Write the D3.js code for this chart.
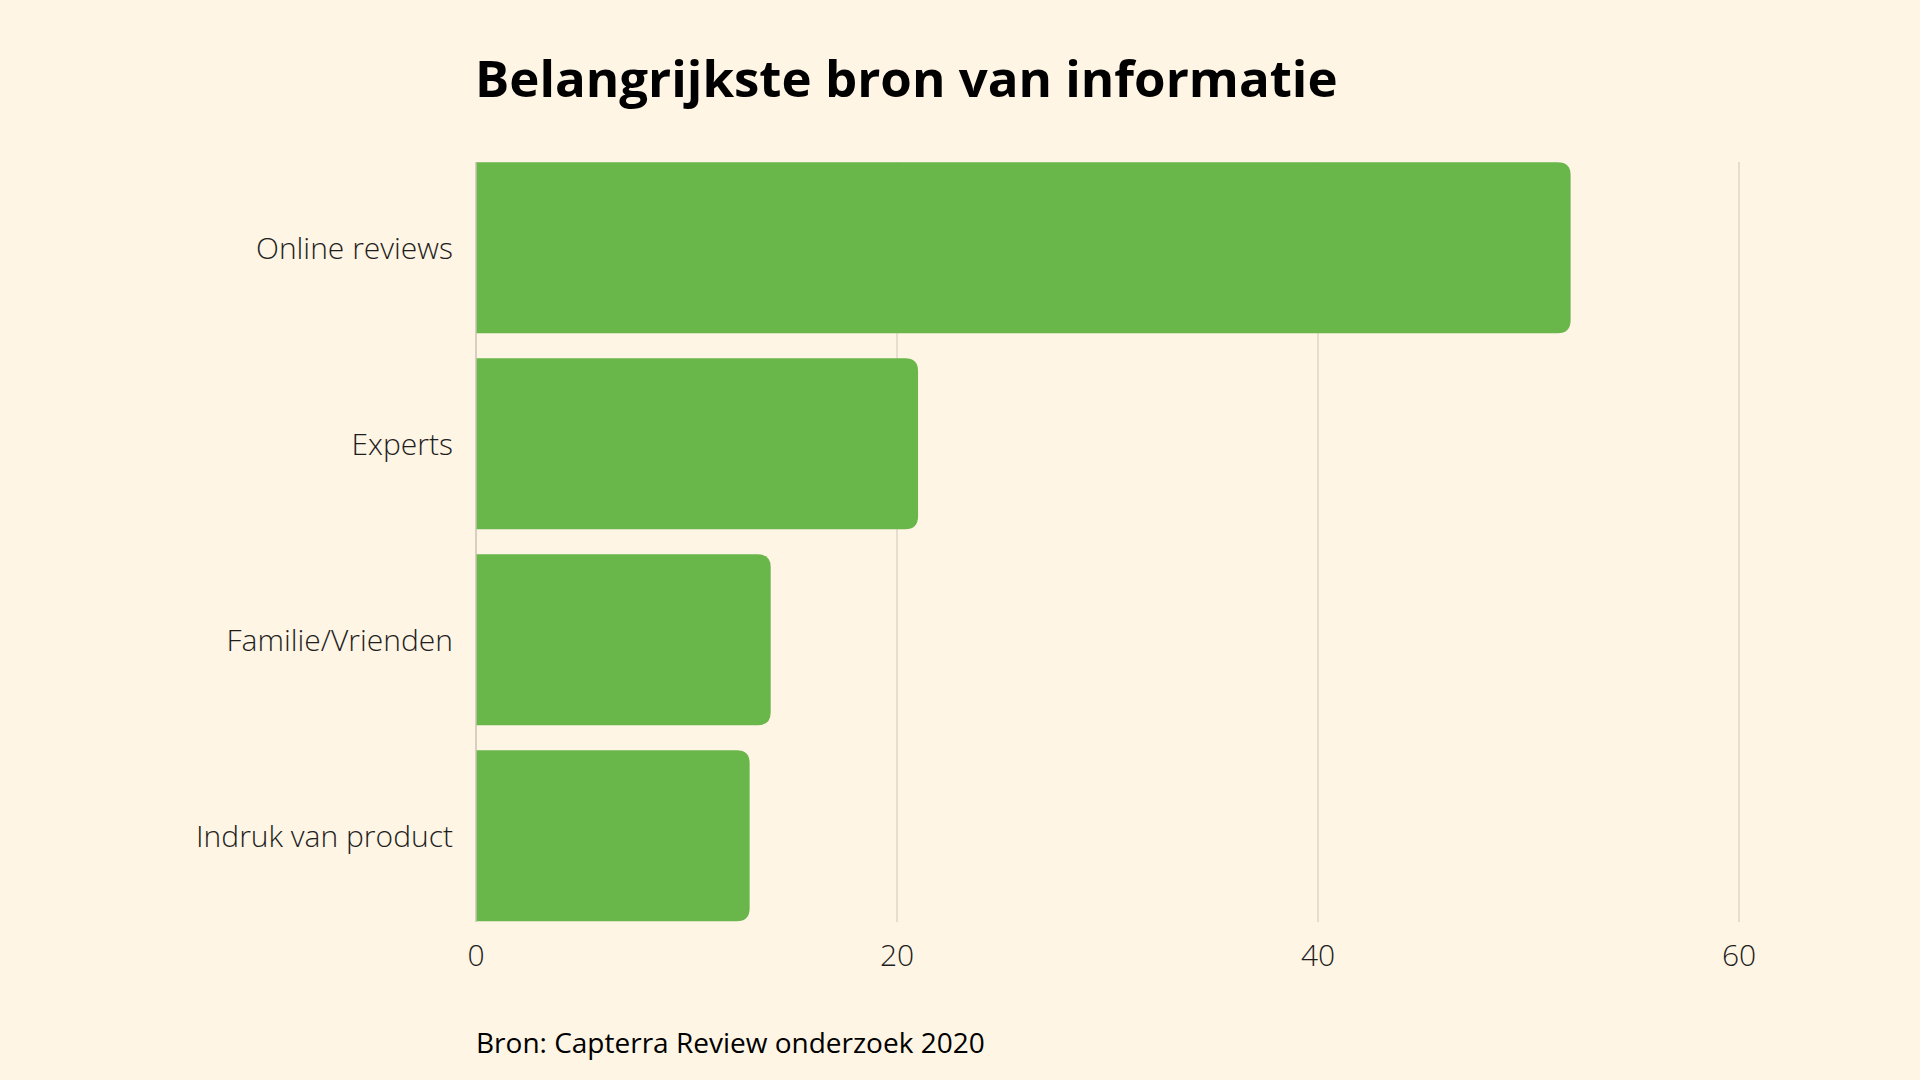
<!DOCTYPE html>
<html>
<head>
<meta charset="utf-8">
<script src="https://cdn.jsdelivr.net/npm/d3@7/dist/d3.min.js"></script>
<style>
html,body{margin:0;padding:0;background:#FEF5E4;}
svg{display:block;}
text{font-family:"Open Sans",sans-serif;}
</style>
</head>
<body>
<script>
const categories = ["Online reviews","Experts","Familie/Vrienden","Indruk van product"];
const values = [52, 21, 14, 13];
const tickValues = [0, 20, 40, 60];
const titleText = "Belangrijkste bron van informatie";
const sourceText = "Bron: Capterra Review onderzoek 2020";

const W = 1920, H = 1080;
const svg = d3.select("body").append("svg").attr("width", W).attr("height", H);
svg.append("rect").attr("width", W).attr("height", H).attr("fill", "#FEF5E4");

const x = d3.scaleLinear().domain([0, 60]).range([476, 1739]);
const y = d3.scaleBand().domain(categories).range([162.3, 921.3]).paddingInner(0.1276).paddingOuter(0);

// gridlines
svg.append("g").selectAll("line").data(tickValues).join("line")
  .attr("x1", d => x(d)).attr("x2", d => x(d))
  .attr("y1", 162).attr("y2", 922)
  .attr("stroke", "#D9D2C4").attr("stroke-width", 1.3);

// bars with rounded right corners
const r = 13;
function barPath(v, cat) {
  const x0 = x(0), x1 = x(v), y0 = y(cat), y1 = y(cat) + y.bandwidth();
  const rr = Math.min(r, (x1 - x0) / 2);
  return `M${x0},${y0} H${x1 - rr} Q${x1},${y0} ${x1},${y0 + rr} V${y1 - rr} Q${x1},${y1} ${x1 - rr},${y1} H${x0} Z`;
}
svg.append("g").selectAll("path").data(categories).join("path")
  .attr("d", (c, i) => barPath(values[i], c))
  .attr("fill", "#69B64A");

// axis line at 0 drawn over bars
svg.append("line").attr("x1", x(0)).attr("x2", x(0)).attr("y1", 162).attr("y2", 922)
  .attr("stroke", "#CFC8BA").attr("stroke-width", 1.3);

// category labels
svg.append("g").selectAll("text").data(categories).join("text")
  .attr("x", 453).attr("y", d => y(d) + y.bandwidth() / 2)
  .attr("dy", "0.37em")
  .attr("text-anchor", "end")
  .attr("font-size", 30).attr("font-weight", 300).attr("fill", "#1e1e1e")
  .text(d => d);

// tick labels
svg.append("g").selectAll("text").data(tickValues).join("text")
  .attr("x", d => x(d)).attr("y", 966)
  .attr("text-anchor", "middle")
  .attr("font-size", 30).attr("font-weight", 300).attr("fill", "#1e1e1e")
  .text(d => d);

// title
svg.append("text").attr("x", 475).attr("y", 96.5)
  .attr("font-size", 51).attr("font-weight", 700).attr("fill", "#000")
  .text(titleText);

// source
svg.append("text").attr("x", 476).attr("y", 1053)
  .attr("font-size", 28).attr("font-weight", 400).attr("fill", "#000")
  .text(sourceText);
</script>
</body>
</html>
